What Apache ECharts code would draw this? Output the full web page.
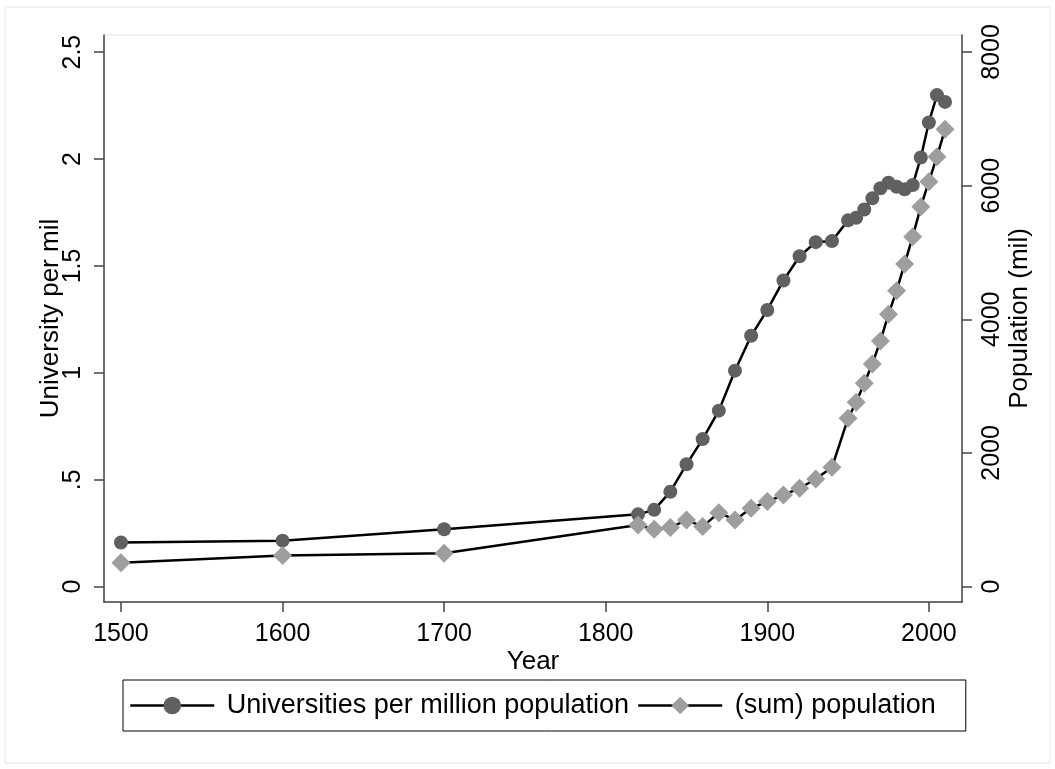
<!DOCTYPE html>
<html>
<head>
<meta charset="utf-8">
<script src="https://cdn.jsdelivr.net/npm/echarts@6/dist/echarts.min.js"></script>
<style>
  html, body { margin: 0; padding: 0; background: #fff; }
  #chart { width: 1055px; height: 769px; }
</style>
</head>
<body>
<div id="chart"></div>
<script>
// years observed
const years = [1500, 1600, 1700, 1820, 1830, 1840, 1850, 1860, 1870, 1880, 1890, 1900, 1910, 1920, 1930, 1940,
  1950, 1955, 1960, 1965, 1970, 1975, 1980, 1985, 1990, 1995, 2000, 2005, 2010];
// universities per million population (left axis)
const uniPerMil = [0.206, 0.215, 0.268, 0.338, 0.359, 0.444, 0.572, 0.69, 0.823, 1.01, 1.173, 1.294, 1.432, 1.545, 1.611, 1.616,
  1.713, 1.725, 1.764, 1.816, 1.863, 1.889, 1.870, 1.858, 1.878, 2.007, 2.171, 2.299, 2.267];
// (sum) population in millions (right axis)
const population = [359, 464, 500, 923, 859, 883, 998, 898, 1107, 998, 1173, 1272, 1372, 1472, 1611, 1786,
  2519, 2759, 3043, 3332, 3676, 4075, 4428, 4828, 5236, 5685, 6059, 6433, 6843];

const xTicks = [1500, 1600, 1700, 1800, 1900, 2000];
const leftTicks = [0, 0.5, 1, 1.5, 2, 2.5];
const rightTicks = [0, 2000, 4000, 6000, 8000];

const font = '"Liberation Sans", Arial, sans-serif';
const axisColor = '#444';
const labelSize = 25;
const nameSize = 26;

let chart = echarts.init(document.getElementById('chart'));

chart.setOption({
  animation: false,
  textStyle: { fontFamily: font, color: '#000' },
  graphic: [{
    type: 'rect',
    shape: { x: 5, y: 7, width: 1045, height: 756 },
    style: { fill: null, stroke: '#e4e4e4', lineWidth: 1 },
    silent: true
  }],
  grid: {
    left: 104,
    right: 93,
    top: 35,
    bottom: 167,
    show: true,
    borderColor: '#e6e6e6',
    borderWidth: 1
  },
  legend: {
    left: 123,
    top: 680,
    padding: [12, 30, 12, 6],
    borderColor: '#000',
    borderWidth: 1,
    itemWidth: 84,
    itemHeight: 22,
    itemGap: 8,
    lineStyle: { width: 2.5 },
    formatter: name => ' ' + name,
    textStyle: { fontSize: 27, fontFamily: font, color: '#000' }
  },
  xAxis: {
    type: 'value',
    min: 1489.5,
    max: 2020.5,
    name: 'Year',
    nameLocation: 'middle',
    nameGap: 47,
    nameMoveOverlap: false,
    nameTextStyle: { fontSize: nameSize, fontFamily: font, color: '#000' },
    axisLine: { onZero: false, lineStyle: { color: axisColor, width: 1.5 } },
    axisTick: { customValues: xTicks, length: 10, lineStyle: { color: axisColor, width: 1.5 } },
    axisLabel: {
      customValues: xTicks, margin: 20, fontSize: labelSize, fontFamily: font, color: '#000',
      formatter: v => String(v)
    },
    splitLine: { show: false }
  },
  yAxis: [{
    type: 'value',
    position: 'left',
    min: -0.072,
    max: 2.58,
    name: 'University per mil',
    nameLocation: 'middle',
    nameGap: 40,
    nameMoveOverlap: false,
    nameTextStyle: { fontSize: nameSize, fontFamily: font, color: '#000' },
    axisLine: { show: true, lineStyle: { color: axisColor, width: 1.5 } },
    axisTick: { show: true, customValues: leftTicks, length: 10, lineStyle: { color: axisColor, width: 1.5 } },
    axisLabel: {
      customValues: leftTicks,
      rotate: 90,
      margin: 18,
      fontSize: labelSize,
      fontFamily: font,
      color: '#000',
      formatter: v => (v > 0 && v < 1) ? String(v).replace(/^0/, '') : String(v)
    },
    splitLine: { show: false }
  }, {
    type: 'value',
    position: 'right',
    min: -230,
    max: 8254,
    name: 'Population (mil)',
    nameLocation: 'middle',
    nameGap: 45,
    nameMoveOverlap: false,
    nameTextStyle: { fontSize: nameSize, fontFamily: font, color: '#000' },
    axisLine: { show: true, lineStyle: { color: axisColor, width: 1.5 } },
    axisTick: { show: true, customValues: rightTicks, length: 10, lineStyle: { color: axisColor, width: 1.5 } },
    axisLabel: {
      customValues: rightTicks, rotate: 90, margin: 18, fontSize: labelSize, fontFamily: font, color: '#000',
      formatter: v => String(v)
    },
    splitLine: { show: false }
  }],
  series: [{
    name: 'Universities per million population',
    type: 'line',
    yAxisIndex: 0,
    data: years.map((y, i) => [y, uniPerMil[i]]),
    symbol: 'circle',
    symbolSize: 14,
    showAllSymbol: true,
    itemStyle: { color: '#606060' },
    lineStyle: { color: '#000', width: 2.5 }
  }, {
    name: '(sum) population',
    type: 'line',
    yAxisIndex: 1,
    data: years.map((y, i) => [y, population[i]]),
    symbol: 'diamond',
    symbolSize: 19,
    showAllSymbol: true,
    itemStyle: { color: '#9e9e9e' },
    lineStyle: { color: '#000', width: 2.5 }
  }]
});

window.addEventListener('resize', function () {
  chart.resize();
});
</script>
</body>
</html>
